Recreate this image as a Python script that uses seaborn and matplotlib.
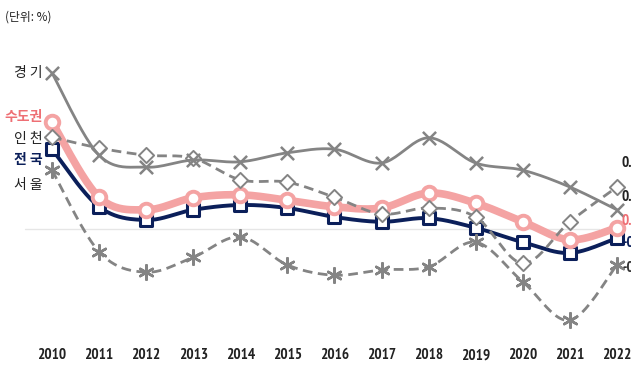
import numpy as np
import pandas as pd
import matplotlib
matplotlib.use("Agg")
import matplotlib.pyplot as plt
import seaborn as sns
from matplotlib import font_manager

# annual growth rates (%) by region
years = list(range(2010, 2023))
gyeonggi = [2.60, 1.23, 1.03, 1.15, 1.12, 1.27, 1.33, 1.10, 1.52, 1.10, 0.98, 0.70, 0.32]
capital = [1.78, 0.53, 0.32, 0.52, 0.57, 0.48, 0.37, 0.35, 0.60, 0.43, 0.12, -0.18, 0.02]
incheon = [1.53, 1.35, 1.23, 1.18, 0.82, 0.78, 0.53, 0.25, 0.35, 0.20, -0.57, 0.12, 0.70]
national = [1.33, 0.37, 0.15, 0.32, 0.40, 0.35, 0.20, 0.12, 0.18, 0.02, -0.22, -0.40, -0.15]
seoul = [0.98, -0.38, -0.72, -0.47, -0.13, -0.60, -0.77, -0.68, -0.63, -0.22, -0.88, -1.52, -0.60]
year_labels = [str(y) for y in years]

sns.set_theme(style="white")
plt.rcParams["font.family"] = ["Noto Sans CJK KR", "DejaVu Sans"]
plt.rcParams["axes.unicode_minus"] = False

# pick a narrow bold face for the numbers if one is installed
narrow = [f for f in font_manager.fontManager.ttflist
          if ("Narrow" in f.name or "Condensed" in f.name or "Condensed" in f.fname
              or f.stretch in ("condensed", "semi-condensed"))
          and (f.weight in ("bold", 700) or "Bold" in f.fname) and "Oblique" not in f.fname
          and "Italic" not in f.fname]
narrow.sort(key=lambda f: 0 if "Narrow" in f.name or "Narrow" in f.fname else 1)
if narrow:
    NUM = dict(fontproperties=font_manager.FontProperties(fname=narrow[0].fname))
else:
    NUM = dict(fontfamily="Liberation Sans", fontweight="bold")

W, H = 631, 381
fig = plt.figure(figsize=(W / 100, H / 100), dpi=100)

# pixel mapping for the full-width axes
x0_px, dx_px = 52.0, 47.08
zero_px, unit_px = 229.0, 60.0
bottom_px = 345.0
ax = fig.add_axes([0, (H - bottom_px) / H, 1, bottom_px / H])
ax.set_xlim(2010 - x0_px / dx_px, 2010 + (W - x0_px) / dx_px)
ax.set_ylim((zero_px - bottom_px) / unit_px, zero_px / unit_px)
for s in ax.spines.values():
    s.set_visible(False)
ax.set_yticks([])
ax.set_xticks(years)
ax.set_xticklabels(year_labels, color="#222222", **NUM)
for lab in ax.get_xticklabels():
    lab.set_fontsize(11)
ax.tick_params(axis="x", length=0, pad=2.5)


def smooth(xs, ys, n=24):
    P = np.column_stack([np.asarray(xs, float), np.asarray(ys, float)])
    out = []
    m = len(P)
    for i in range(m - 1):
        p0 = P[i - 1] if i > 0 else P[i]
        p3 = P[i + 2] if i + 2 < m else P[i + 1]
        b0, b3 = P[i], P[i + 1]
        b1 = b0 + (b3 - p0) / 6.0
        b2 = b3 - (p3 - b0) / 6.0
        t = np.linspace(0, 1, n, endpoint=(i == m - 2))[:, None]
        seg = (1 - t) ** 3 * b0 + 3 * (1 - t) ** 2 * t * b1 + 3 * (1 - t) * t ** 2 * b2 + t ** 3 * b3
        out.append(seg)
    c = np.vstack(out)
    return c[:, 0], c[:, 1]


ax.axhline(0, xmin=0.04, xmax=0.95, color="#e6e6e6", lw=1.0, zorder=0)

GRAY = "#848484"
NAVY = "#0b1f5a"
PINK = "#f4a3a3"

series = [
    ("전국", national, dict(color=NAVY, lw=2.8, ls="-"),
     dict(marker="s", s=75, facecolor="white", edgecolor=NAVY, linewidth=2.2), 3),
    ("수도권", capital, dict(color=PINK, lw=5.5, ls="-"),
     dict(marker="o", s=95, facecolor="white", edgecolor=PINK, linewidth=2.8), 4),
    ("인천", incheon, dict(color=GRAY, lw=2.0, ls=(0, (3.5, 2))),
     dict(marker="D", s=60, facecolor="white", edgecolor=GRAY, linewidth=1.4), 5),
    ("경기", gyeonggi, dict(color=GRAY, lw=2.0, ls="-"),
     dict(marker="x", s=90, color=GRAY, linewidth=1.8), 6),
    ("서울", seoul, dict(color=GRAY, lw=2.0, ls=(0, (3.5, 2))),
     dict(marker=(6, 2, 0), s=110, color=GRAY, linewidth=1.8), 7),
]

for name, vals, lkw, mkw, z in series:
    sx, sy = smooth(years, vals)
    curve = pd.DataFrame({"year": sx, "value": sy})
    sns.lineplot(data=curve, x="year", y="value", sort=False, estimator=None,
                 color=lkw["color"], linewidth=lkw["lw"], linestyle=lkw["ls"],
                 ax=ax, zorder=z, legend=False)
    pts = pd.DataFrame({"year": years, "value": vals})
    sns.scatterplot(data=pts, x="year", y="value", ax=ax, zorder=z + 0.5, legend=False, **mkw)

ax.set_xlabel("")
ax.set_ylabel("")

# region names on the left
left_labels = [
    ("경 기", 73, "#222222", "normal"),
    ("수도권", 117, "#ee6f74", "bold"),
    ("인 천", 139, "#222222", "normal"),
    ("전 국", 160, NAVY, "bold"),
    ("서 울", 185, "#222222", "normal"),
]
for txt, ypx, col, wt in left_labels:
    fig.text(43 / W, 1 - ypx / H, txt, ha="right", va="center", fontsize=10,
             color=col, fontweight=wt)

# end-of-series values on the right
end_labels = [
    (incheon[-1], 163, "#222222"),
    (gyeonggi[-1], 197, "#222222"),
    (capital[-1], 221, "#ee6f74"),
    (national[-1], 243, NAVY),
    (seoul[-1], 268, "#333333"),
]
for v, ypx, col in end_labels:
    t = fig.text(622 / W, 1 - ypx / H, f"{v:.2f}", ha="left", va="center",
                 color=col, **NUM)
    t.set_fontsize(11)

fig.text(5 / W, 1 - 17 / H, "(단위: %)", ha="left", va="center", fontsize=8.5, color="#222222")

fig.savefig("out.png", dpi=100)
